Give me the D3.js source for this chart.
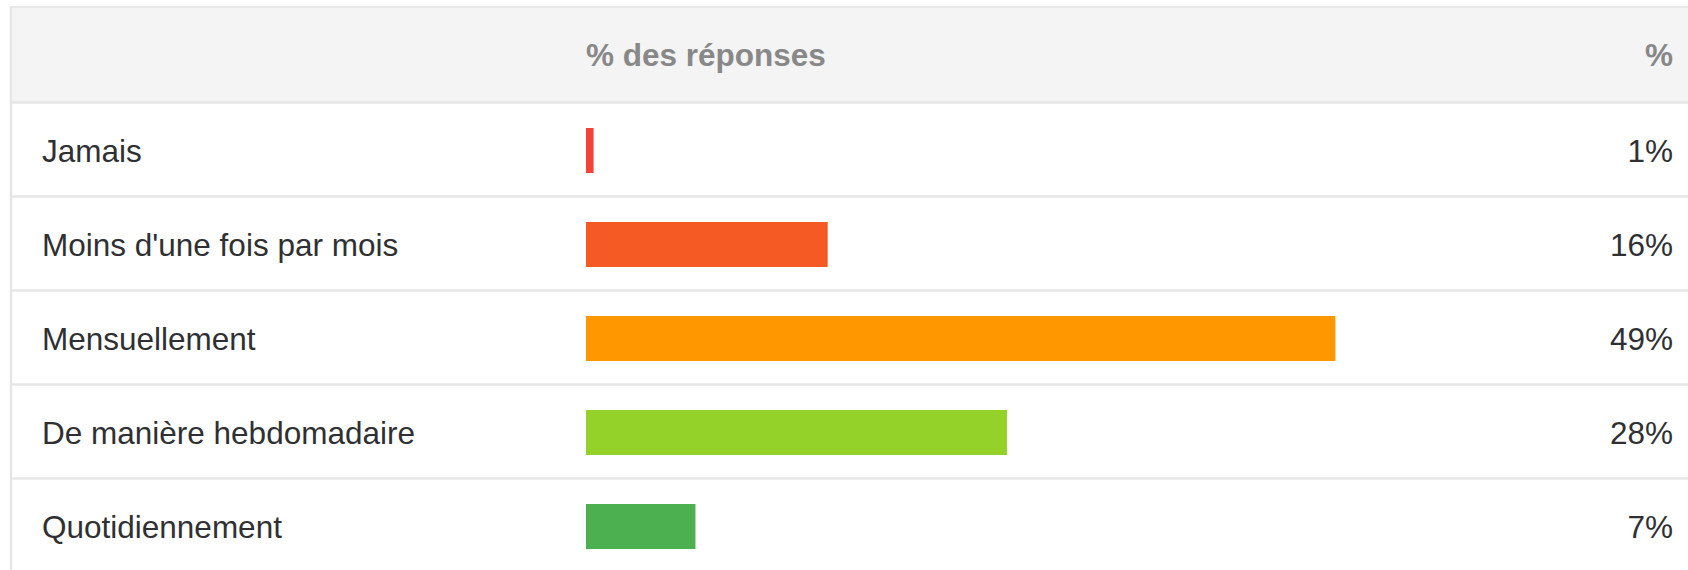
<!DOCTYPE html>
<html>
<head>
<meta charset="utf-8">
<script src="https://cdn.jsdelivr.net/npm/d3@7.9.0/dist/d3.min.js"></script>
<style>
    html, body { margin: 0; padding: 0; background: #fff; }
    svg { display: block; }
    text { font-family: "Liberation Sans", Arial, sans-serif; }
</style>
</head>
<body>
<svg width="1688" height="570"></svg>
<script>
// answers, in table order
const categories = ['Jamais', "Moins d'une fois par mois", 'Mensuellement', 'De manière hebdomadaire', 'Quotidiennement'];
// share of answers (%)
const shares = [0.5, 15.9, 49.3, 27.7, 7.2];
// rounded values printed in the right column
const pctLabels = ['1%', '16%', '49%', '28%', '7%'];
const barColors = ['#f44336', '#f55a24', '#ff9800', '#94d22a', '#4caf50'];

const svg = d3.select('svg');
const W = 1688;
const tableLeft = 10, tableTop = 7;
const headerH = 95.5;
const rowH = 94;
const fontSize = 31.5;

// table frame + header
svg.append('rect')
    .attr('x', tableLeft).attr('y', tableTop)
    .attr('width', W - tableLeft).attr('height', headerH)
    .attr('fill', '#f4f4f4');

let y = d3.scaleBand()
    .domain(categories)
    .range([tableTop + headerH, tableTop + headerH + rowH * categories.length]);

let x = d3.scaleLinear()
    .domain([0, 100])
    .range([586, 586 + 1520]);

// row separators
svg.selectAll('line.sep')
    .data(categories)
    .join('line')
    .attr('class', 'sep')
    .attr('x1', tableLeft).attr('x2', W)
    .attr('y1', (d) => y(d))
    .attr('y2', (d) => y(d))
    .attr('stroke', '#e6e6e6')
    .attr('stroke-width', 2.5);

// top and left borders
svg.append('line')
    .attr('x1', tableLeft).attr('x2', W)
    .attr('y1', tableTop).attr('y2', tableTop)
    .attr('stroke', '#e8e8e8').attr('stroke-width', 2);
svg.append('line')
    .attr('x1', tableLeft + 1).attr('x2', tableLeft + 1)
    .attr('y1', tableTop).attr('y2', 570)
    .attr('stroke', '#e6e6e6').attr('stroke-width', 2.5);

// header texts
svg.append('text')
    .attr('x', 586).attr('y', 66)
    .attr('font-size', fontSize).attr('font-weight', 'bold')
    .attr('fill', '#888')
    .text('% des réponses');
svg.append('text')
    .attr('x', 1673).attr('y', 66)
    .attr('text-anchor', 'end')
    .attr('font-size', fontSize).attr('font-weight', 'bold')
    .attr('fill', '#888')
    .text('%');

const barH = 45;

// bars
svg.selectAll('rect.bar')
    .data(categories)
    .join('rect')
    .attr('class', 'bar')
    .attr('x', x(0))
    .attr('y', (d) => y(d) + (y.bandwidth() - barH) / 2 + 1)
    .attr('width', (d, i) => x(shares[i]) - x(0))
    .attr('height', barH)
    .attr('fill', (d, i) => barColors[i]);

// category labels
svg.selectAll('text.cat')
    .data(categories)
    .join('text')
    .attr('class', 'cat')
    .attr('x', 42)
    .attr('y', (d) => y(d) + y.bandwidth() / 2 + 12)
    .attr('font-size', fontSize)
    .attr('fill', '#2f3033')
    .text((d) => d);

// percentage labels
svg.selectAll('text.pct')
    .data(categories)
    .join('text')
    .attr('class', 'pct')
    .attr('x', 1673)
    .attr('y', (d) => y(d) + y.bandwidth() / 2 + 12)
    .attr('text-anchor', 'end')
    .attr('font-size', fontSize)
    .attr('fill', '#2f3033')
    .text((d, i) => pctLabels[i]);
</script>
</body>
</html>
